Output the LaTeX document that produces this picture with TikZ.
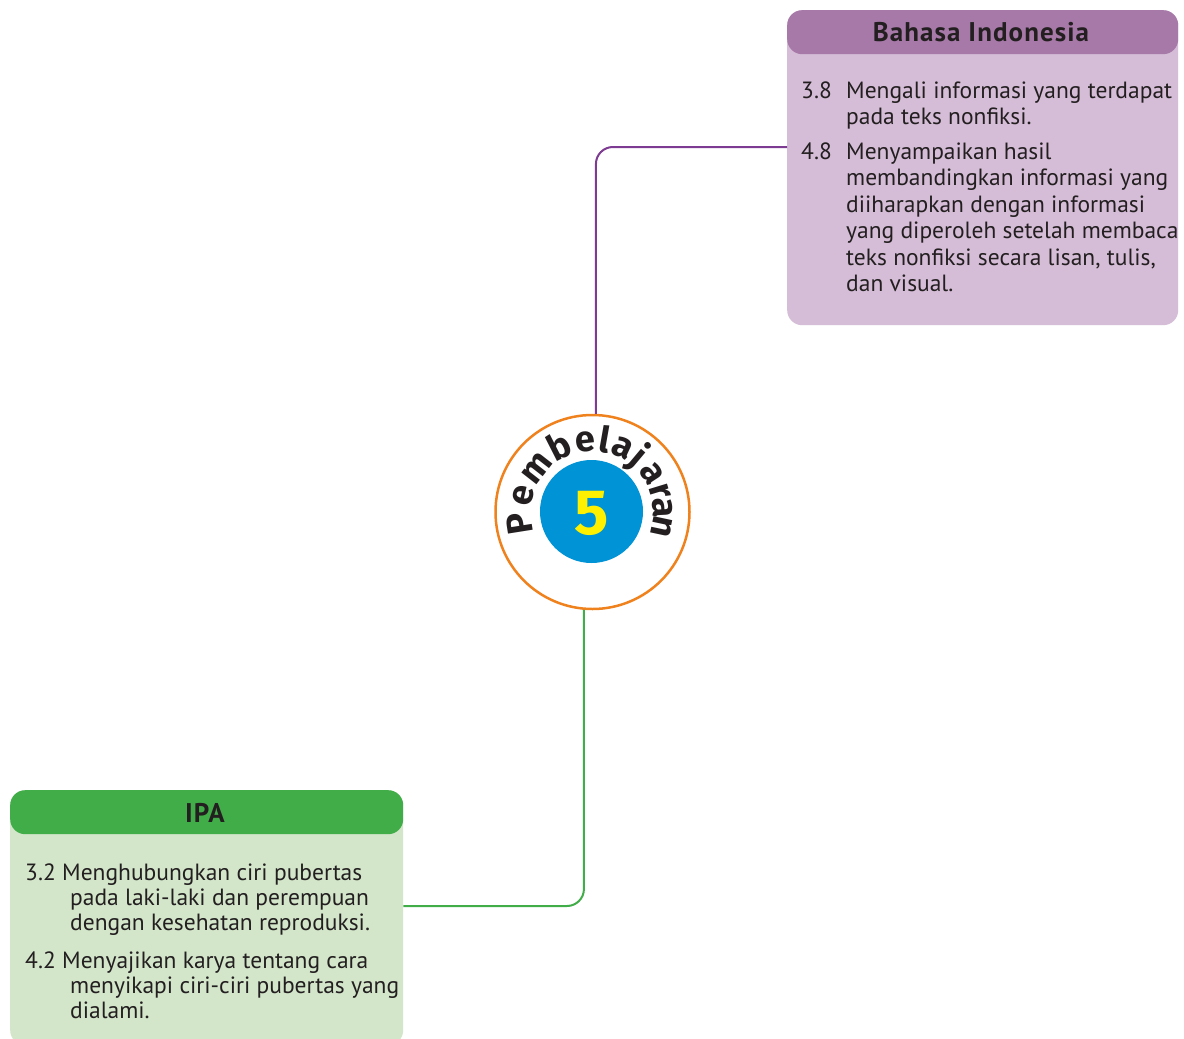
\documentclass[tikz,border=0pt]{standalone}
\usepackage{fontspec}
\setmainfont{PT Sans}
\newfontfamily\dinfont{Fira Sans}
\definecolor{bihead}{HTML}{A779A8}
\definecolor{bibody}{HTML}{D5BDD7}
\definecolor{biline}{HTML}{7D3C92}
\definecolor{ipahead}{HTML}{41AD49}
\definecolor{ipabody}{HTML}{D3E6CA}
\definecolor{ipaline}{HTML}{41AD49}
\definecolor{ringorange}{HTML}{F0821E}
\definecolor{discblue}{HTML}{0093D6}
\definecolor{fiveyellow}{HTML}{FFF000}
\definecolor{ink}{HTML}{231F20}
\newcommand\myBody{\fontsize{23.5}{27}\selectfont}
\newcommand\myHead{\fontsize{27}{30}\selectfont\bfseries\addfontfeatures{LetterSpace=4}}
\begin{document}
\begin{tikzpicture}[x=1pt,y=-1pt,
  txt/.style={anchor=base west, inner sep=0, font=\myBody, text=ink},
  headtxt/.style={anchor=base, inner sep=0, font=\myHead, text=ink},
  panel/.style={anchor=north west, inner sep=0, rounded corners=15, minimum width=#1},
  conn/.style={line width=2pt, rounded corners=17},
  letter/.style={anchor=base, inner sep=0, font=\dinfont\bfseries\fontsize{36}{36}\selectfont, text=ink}]
\useasboundingbox[fill=white] (0,0) rectangle (1184,1039);

% Bahasa Indonesia panel
\node[panel=391, fill=bibody, minimum height=315] (bibox) at (787,10) {};
\node[panel=391, fill=bihead, minimum height=44] (bihd) at (787,10) {};
\node[headtxt] (bititle) at (981,41) {Bahasa Indonesia};
\node[txt] (b1n) at (801,98) {3.8};
\node[txt] (b1a) at (846,98) {Mengali informasi yang terdapat};
\node[txt] (b1b) at (846,124) {pada teks nonfiksi.};
\node[txt] (b2n) at (801,159) {4.8};
\node[txt] (b2a) at (846,159) {Menyampaikan hasil};
\node[txt] (b2b) at (846,185.5) {membandingkan informasi yang};
\node[txt] (b2c) at (846,212) {diiharapkan dengan informasi};
\node[txt] (b2d) at (846,238.5) {yang diperoleh setelah membaca};
\node[txt] (b2e) at (846,265) {teks nonfiksi secara lisan, tulis,};
\node[txt] (b2f) at (846,291.5) {dan visual.};

% IPA panel
\node[panel=393, fill=ipabody, minimum height=255] (ipabox) at (10,790) {};
\node[panel=393, fill=ipahead, minimum height=44] (ipahd) at (10,790) {};
\node[headtxt] (ipatitle) at (205,822) {IPA};
\node[txt] (i1n) at (25,880) {3.2};
\node[txt] (i1a) at (62,880) {Menghubungkan ciri pubertas};
\node[txt] (i1b) at (70,905) {pada laki-laki dan perempuan};
\node[txt] (i1c) at (70,930) {dengan kesehatan reproduksi.};
\node[txt] (i2n) at (25,968) {4.2};
\node[txt] (i2a) at (62,968) {Menyajikan karya tentang cara};
\node[txt] (i2b) at (70,993) {menyikapi ciri-ciri pubertas yang};
\node[txt] (i2c) at (70,1018) {dialami.};

% centre badge
\node[circle, draw=ringorange, line width=2.5pt, fill=white, minimum size=194, inner sep=0] (circ) at (592.5,512) {};
\node[circle, fill=discblue, minimum size=103, inner sep=0] (disc) at (591.5,511.5) {};
\node[font=\dinfont\bfseries\fontsize{64}{64}\selectfont, text=fiveyellow, inner sep=0] (five) at (591.5,513) {5};
\coordinate (cc) at (592.5,512);
\begin{scope}[shift={(cc)}, y=1pt]
\foreach \a/\l [count=\i] in {189/P,167/e,142/m,117/b,96/e,80/l,65/a,50/j,33/a,17/r,3/a,-12/n}
  \node[letter, rotate=\a-90] (L\i) at (\a:61) {\l};
\end{scope}

% connectors
\draw[conn, draw=biline] (circ.88) |- (bibox.west |- 0,147);
\draw[conn, draw=ipaline] (circ.265) |- (ipabox.east |- 0,906);
\end{tikzpicture}
\end{document}
